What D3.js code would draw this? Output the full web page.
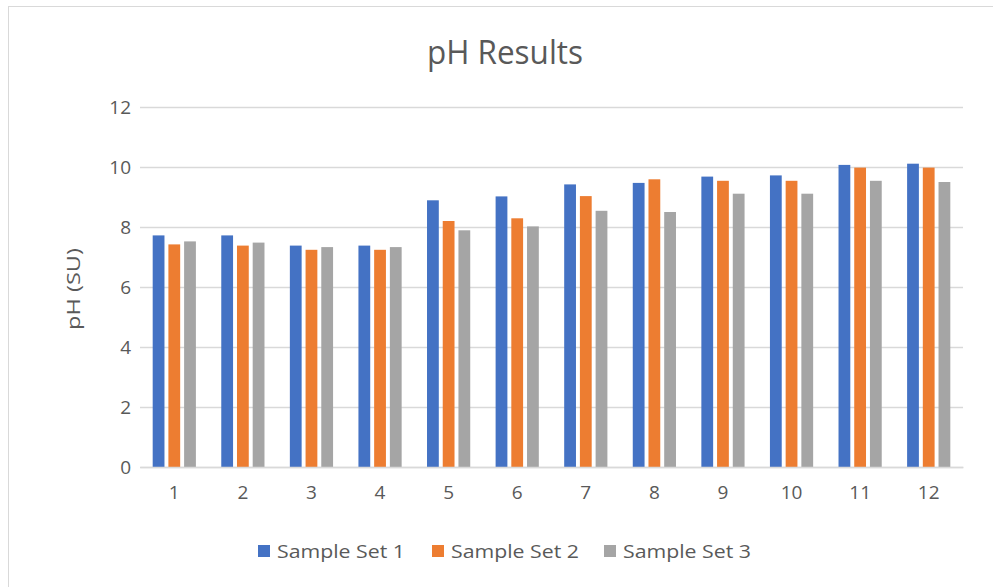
<!DOCTYPE html>
<html>
<head>
<meta charset="utf-8">
<script src="https://cdn.jsdelivr.net/npm/d3@7"></script>
<style>
  body { margin: 0; background: #fff; }
  text { font-family: "Segoe UI", "Open Sans", "Noto Sans", sans-serif; fill: #595959; }
</style>
</head>
<body>
<div id="chart"></div>
<script>
// data
const categories = ["1", "2", "3", "4", "5", "6", "7", "8", "9", "10", "11", "12"];
const seriesNames = ["Sample Set 1", "Sample Set 2", "Sample Set 3"];
const set1 = [7.72, 7.72, 7.38, 7.38, 8.89, 9.02, 9.42, 9.47, 9.68, 9.72, 10.07, 10.11];
const set2 = [7.42, 7.38, 7.24, 7.24, 8.2, 8.29, 9.03, 9.59, 9.54, 9.54, 9.98, 9.98];
const set3 = [7.52, 7.48, 7.33, 7.33, 7.89, 8.02, 8.54, 8.5, 9.11, 9.11, 9.54, 9.5];
const yTicks = [0, 2, 4, 6, 8, 10, 12];
const colors = ["#4472C4", "#ED7D31", "#A5A5A5"];

const width = 993, height = 587;
const margin = { top: 107, right: 30, bottom: 120, left: 140 };
const series = [set1, set2, set3];

const svg = d3.select("#chart")
    .append("svg")
    .attr("width", width)
    .attr("height", height);

// chart area border
svg.append("rect")
    .attr("x", 8.5).attr("y", 6.5)
    .attr("width", width).attr("height", height)
    .attr("fill", "#fff")
    .attr("stroke", "#d9d9d9");

const x0 = d3.scaleBand()
    .domain(categories)
    .range([margin.left, width - margin.right])
    .paddingInner(0.37)
    .paddingOuter(0.185);

const x1 = d3.scaleBand()
    .domain(d3.range(seriesNames.length))
    .range([0, x0.bandwidth()])
    .paddingInner(0.25);

const y = d3.scaleLinear()
    .domain([0, 12])
    .range([height - margin.bottom, margin.top]);

// gridlines
svg.append("g")
    .selectAll("line")
    .data(yTicks)
    .join("line")
    .attr("x1", margin.left)
    .attr("x2", width - margin.right)
    .attr("y1", d => Math.round(y(d)) + 0.5)
    .attr("y2", d => Math.round(y(d)) + 0.5)
    .attr("stroke", "#d9d9d9")
    .attr("stroke-width", 1.5);

// bars
const groups = svg.append("g")
    .selectAll("g")
    .data(categories)
    .join("g")
    .attr("transform", d => `translate(${x0(d)},0)`);

groups.selectAll("rect")
    .data((d, i) => series.map((s, k) => ({ k: k, v: s[i] })))
    .join("rect")
    .attr("x", d => x1(d.k))
    .attr("width", x1.bandwidth())
    .attr("y", d => y(d.v))
    .attr("height", d => y(0) - y(d.v))
    .attr("fill", d => colors[d.k]);

// y axis labels
const yAxis = svg.append("g")
    .attr("transform", `translate(${margin.left},0)`)
    .call(d3.axisLeft(y).tickValues(yTicks).tickSize(0).tickPadding(9));
yAxis.select(".domain").remove();
yAxis.selectAll("text").style("font-size", "19px").attr("fill", "#595959");

// x axis labels
const xAxis = svg.append("g")
    .attr("transform", `translate(0,${y(0)})`)
    .call(d3.axisBottom(x0).tickSize(0).tickPadding(19));
xAxis.select(".domain")
    .attr("stroke", "#d9d9d9")
    .attr("stroke-width", 1.5);
xAxis.selectAll("text").style("font-size", "19px").attr("fill", "#595959");

// title
svg.append("text")
    .attr("x", 505)
    .attr("y", 64)
    .attr("text-anchor", "middle")
    .attr("textLength", 156)
    .attr("lengthAdjust", "spacingAndGlyphs")
    .style("font-size", "32px")
    .text("pH Results");

// y axis title
svg.append("text")
    .attr("transform", "translate(80,289) rotate(-90)")
    .attr("text-anchor", "middle")
    .attr("textLength", 82)
    .attr("lengthAdjust", "spacingAndGlyphs")
    .style("font-size", "19px")
    .text("pH (SU)");

// legend
const legendX = [258, 432, 604];
const legend = svg.append("g")
    .selectAll("g")
    .data(seriesNames)
    .join("g")
    .attr("transform", (d, i) => `translate(${legendX[i]},545)`);

legend.append("rect")
    .attr("width", 12)
    .attr("height", 12)
    .attr("fill", (d, i) => colors[i]);

legend.append("text")
    .attr("x", 19)
    .attr("y", 13)
    .attr("textLength", 128)
    .attr("lengthAdjust", "spacingAndGlyphs")
    .style("font-size", "19px")
    .text(d => d);
</script>
</body>
</html>
